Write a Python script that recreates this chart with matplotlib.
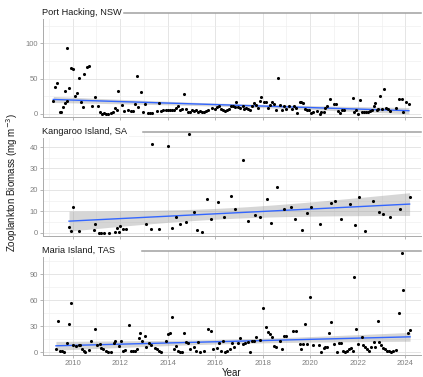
import numpy as np
import matplotlib.pyplot as plt

plt.rcParams['font.family'] = ['Liberation Sans', 'DejaVu Sans']

# Sites (one panel each)
sites = ['Port Hacking, NSW', 'Kangaroo Island, SA', 'Maria Island, TAS']

# Port Hacking, NSW
ph_year = [2009.19, 2009.27, 2009.36, 2009.47, 2009.52, 2009.61, 2009.69, 2009.70, 2009.75, 2009.78,
           2009.83, 2009.92, 2010.03, 2010.11, 2010.17, 2010.25, 2010.34, 2010.42, 2010.48, 2010.59,
           2010.67, 2010.81, 2010.93, 2011.09, 2011.15, 2011.23, 2011.32, 2011.40, 2011.49, 2011.60,
           2011.68, 2011.77, 2011.85, 2011.91, 2012.08, 2012.16, 2012.33, 2012.44, 2012.53, 2012.61,
           2012.69, 2012.75, 2012.86, 2012.95, 2013.06, 2013.17, 2013.25, 2013.34, 2013.54, 2013.62,
           2013.71, 2013.79, 2013.93, 2014.02, 2014.11, 2014.20, 2014.28, 2014.37, 2014.45, 2014.54,
           2014.62, 2014.67, 2014.79, 2014.87, 2014.96, 2015.04, 2015.12, 2015.21, 2015.29, 2015.37,
           2015.46, 2015.55, 2015.63, 2015.71, 2015.85, 2015.99, 2016.08, 2016.16, 2016.24, 2016.33,
           2016.41, 2016.50, 2016.58, 2016.67, 2016.75, 2016.83, 2016.89, 2016.98, 2017.06, 2017.15,
           2017.23, 2017.31, 2017.40, 2017.48, 2017.57, 2017.65, 2017.73, 2017.79, 2017.87, 2017.93,
           2018.04, 2018.13, 2018.21, 2018.29, 2018.38, 2018.46, 2018.55, 2018.63, 2018.72, 2018.80,
           2018.88, 2019.00, 2019.11, 2019.22, 2019.31, 2019.38, 2019.46, 2019.55, 2019.63, 2019.71,
           2019.80, 2019.88, 2019.94, 2020.02, 2020.13, 2020.30, 2020.39, 2020.47, 2020.56, 2020.64,
           2020.72, 2020.83, 2021.00, 2021.09, 2021.17, 2021.25, 2021.34, 2021.42, 2021.79, 2021.84,
           2021.93, 2022.01, 2022.10, 2022.18, 2022.26, 2022.35, 2022.43, 2022.52, 2022.60, 2022.69,
           2022.74, 2022.80, 2022.86, 2022.94, 2023.02, 2023.11, 2023.19, 2023.28, 2023.36, 2023.61,
           2023.75, 2023.84, 2023.92, 2024.03, 2024.15]
ph_biomass = [17.6, 38.6, 43.8, 2.9, 1.9, 9.0, 31.9, 15.2, 93.3, 18.6,
              37.1, 65.7, 63.8, 25.7, 29.5, 51.4, 17.1, 9.5, 56.2, 66.2,
              67.6, 10.5, 23.3, 10.5, 1.9, 0.2, 1.0, 0.3, 0.2, 1.0,
              2.9, 7.6, 4.8, 31.9, 12.4, 3.8, 4.8, 3.8, 3.8, 13.3,
              54.3, 9.5, 31.0, 1.9, 13.3, 1.0, 1.0, 1.0, 3.8, 15.2,
              3.8, 4.8, 4.8, 5.0, 5.7, 4.8, 5.7, 7.6, 11.4, 5.7,
              6.7, 28.6, 6.7, 2.9, 1.9, 4.8, 3.8, 4.8, 2.9, 3.8,
              1.9, 2.9, 3.8, 4.8, 8.6, 6.7, 9.5, 11.4, 6.7, 4.8,
              3.8, 4.8, 6.7, 10.5, 11.4, 9.5, 17.1, 9.5, 7.6, 11.4,
              6.7, 8.6, 6.7, 5.7, 11.4, 15.2, 12.4, 7.6, 18.1, 23.8,
              16.2, 17.1, 8.6, 12.4, 17.1, 14.3, 5.7, 50.5, 12.4, 4.8,
              11.4, 6.7, 10.5, 6.7, 11.4, 7.6, 1.0, 17.1, 16.2, 15.2,
              6.7, 5.7, 4.8, 1.0, 2.9, 3.8, 0.3, 1.9, 2.9, 7.6,
              10.5, 21.0, 13.3, 14.3, 3.8, 1.0, 5.7, 5.7, 21.9, 2.9,
              4.8, 0.3, 19.0, 1.9, 1.9, 2.9, 1.9, 3.8, 5.7, 11.4,
              15.2, 5.7, 6.7, 25.7, 6.7, 35.3, 7.6, 6.7, 3.8, 8.6,
              21.0, 21.0, 1.9, 17.1, 13.3]

# Kangaroo Island, SA
ki_year = [2009.85, 2009.93, 2010.01, 2010.27, 2010.88, 2010.94, 2011.11, 2011.19, 2011.31, 2011.53,
           2011.78, 2011.87, 2011.95, 2012.01, 2012.12, 2012.26, 2013.10, 2013.30, 2013.33, 2013.63,
           2014.03, 2014.17, 2014.34, 2014.50, 2014.79, 2014.88, 2015.12, 2015.23, 2015.46, 2015.65,
           2015.82, 2016.12, 2016.37, 2016.68, 2016.85, 2017.19, 2017.36, 2017.66, 2017.89, 2018.17,
           2018.34, 2018.62, 2018.90, 2019.18, 2019.35, 2019.66, 2019.88, 2020.05, 2020.39, 2020.86,
           2021.06, 2021.31, 2021.68, 2021.87, 2022.04, 2022.32, 2022.63, 2022.91, 2023.05, 2023.36,
           2023.78, 2024.18]
ki_biomass = [2.9, 0.6, 12.2, 0.8, 1.1, 4.0, 0.1, 0.1, 0.0, 0.0,
              0.5, 2.0, 0.5, 3.2, 1.7, 1.7, 3.9, 1.7, 41.5, 1.7,
              40.6, 2.3, 7.3, 3.9, 5.1, 46.1, 9.7, 1.1, 0.5, 15.9,
              6.6, 14.4, 7.5, 17.1, 11.3, 34.1, 5.7, 8.2, 7.3, 15.6,
              4.5, 21.2, 11.0, 12.2, 6.6, 1.4, 9.4, 12.2, 4.2, 13.7,
              15.0, 6.6, 13.4, 3.6, 16.5, 0.8, 14.7, 9.7, 8.8, 7.5,
              11.3, 16.8]

# Maria Island, TAS
mi_year = [2009.30, 2009.38, 2009.49, 2009.55, 2009.63, 2009.75, 2009.83, 2009.92, 2010.03, 2010.14,
           2010.25, 2010.31, 2010.39, 2010.48, 2010.53, 2010.70, 2010.79, 2010.93, 2011.04, 2011.15,
           2011.21, 2011.29, 2011.40, 2011.49, 2011.60, 2011.74, 2011.80, 2011.94, 2012.02, 2012.13,
           2012.22, 2012.36, 2012.44, 2012.56, 2012.64, 2012.72, 2012.78, 2012.83, 2012.92, 2013.03,
           2013.09, 2013.20, 2013.31, 2013.45, 2013.54, 2013.65, 2013.73, 2013.93, 2014.03, 2014.11,
           2014.20, 2014.25, 2014.34, 2014.42, 2014.51, 2014.59, 2014.67, 2014.79, 2014.87, 2014.93,
           2015.12, 2015.18, 2015.26, 2015.38, 2015.55, 2015.71, 2015.82, 2015.91, 2016.08, 2016.16,
           2016.24, 2016.33, 2016.41, 2016.50, 2016.61, 2016.72, 2016.81, 2016.98, 2017.06, 2017.15,
           2017.25, 2017.37, 2017.45, 2017.54, 2017.65, 2017.73, 2017.90, 2018.01, 2018.13, 2018.21,
           2018.29, 2018.41, 2018.46, 2018.55, 2018.72, 2018.80, 2018.88, 2018.97, 2019.29, 2019.38,
           2019.55, 2019.63, 2019.71, 2019.77, 2019.88, 2019.99, 2020.13, 2020.36, 2020.47, 2020.56,
           2020.64, 2020.72, 2020.78, 2020.86, 2020.98, 2021.12, 2021.20, 2021.28, 2021.37, 2021.45,
           2021.54, 2021.62, 2021.71, 2021.79, 2021.84, 2021.93, 2022.01, 2022.16, 2022.21, 2022.29,
           2022.38, 2022.46, 2022.57, 2022.69, 2022.74, 2022.83, 2022.88, 2022.97, 2023.05, 2023.14,
           2023.22, 2023.31, 2023.39, 2023.50, 2023.61, 2023.75, 2023.84, 2023.89, 2024.12, 2024.20]
mi_biomass = [3.5, 36.1, 2.0, 1.2, 0.3, 10.4, 32.3, 56.9, 8.1, 7.3,
              8.1, 8.9, 4.3, 1.2, 0.3, 2.7, 12.7, 26.5, 8.9, 9.6,
              5.0, 3.5, 1.2, 0.3, 0.3, 11.2, 13.5, 7.3, 12.7, 1.2,
              2.7, 31.1, 1.2, 2.0, 2.0, 3.5, 16.5, 22.7, 12.7, 18.8,
              5.8, 10.4, 8.9, 5.0, 3.5, 2.0, 0.3, 12.7, 21.1, 22.7,
              41.2, 4.3, 7.3, 1.2, 0.3, 0.3, 21.9, 11.9, 11.2, 4.3,
              5.8, 1.2, 11.9, 0.3, 2.0, 27.3, 24.2, 3.5, 5.0, 10.4,
              1.2, 13.5, 0.3, 1.2, 3.5, 10.4, 6.5, 11.2, 16.5, 9.6,
              10.4, 11.9, 0.3, 12.7, 13.5, 18.1, 14.2, 51.1, 28.8, 23.4,
              21.1, 17.3, 7.3, 5.8, 12.7, 3.5, 18.8, 18.8, 24.2, 24.2,
              9.6, 4.3, 9.6, 32.7, 9.6, 64.2, 8.9, 8.9, 0.3, 5.0,
              6.5, 5.8, 21.9, 35.0, 9.6, 0.3, 10.4, 11.2, 1.2, 0.3,
              2.0, 3.5, 5.0, 2.0, 86.9, 26.5, 9.6, 17.3, 8.9, 6.5,
              4.3, 1.2, 5.8, 11.9, 6.5, 36.6, 11.9, 8.9, 5.0, 3.5,
              1.2, 2.0, 0.3, 2.0, 2.7, 45.8, 115.0, 71.5, 21.9, 25.7]

years = [ph_year, ki_year, mi_year]
biomass = [ph_biomass, ki_biomass, mi_biomass]

y_ticks = [[0, 50, 100], [0, 10, 20, 30, 40], [0, 30, 60, 90]]
y_minor = [[25, 75, 125], [5, 15, 25, 35, 45], [15, 45, 75, 105]]
y_lims = [(-4.5, 143), (-1.5, 47), (-3, 117)]
x_ticks = list(range(2010, 2025, 2))
x_minor = list(range(2009, 2025, 2))

fig = plt.figure(figsize=(4.23, 3.77), dpi=100)

W, H = 423, 377
left, right = 43, 421
tops = [13, 132, 251]
ph = 104
strip_start = [124, 143, 142]

for i in range(3):
    ax = fig.add_axes([left / W, 1 - (tops[i] + ph) / H, (right - left) / W, ph / H])
    x = np.array(years[i])
    y = np.array(biomass[i])

    # linear fit with 95% band
    n = len(x)
    b, a = np.polyfit(x, y, 1)
    xs = np.linspace(x.min(), x.max(), 100)
    fit = a + b * xs
    resid = y - (a + b * x)
    s = np.sqrt(np.sum(resid ** 2) / (n - 2))
    se = s * np.sqrt(1 / n + (xs - x.mean()) ** 2 / np.sum((x - x.mean()) ** 2))
    tval = 1.97 if n > 100 else 2.0
    ax.fill_between(xs, fit - tval * se, fit + tval * se, color='#999999', alpha=0.4, lw=0, zorder=2)
    ax.plot(xs, fit, color='#3366FF', lw=1.0, zorder=3)
    ax.scatter(x, y, s=5, color='black', lw=0, zorder=4)

    ax.set_xlim(2008.755, 2024.66)
    ax.set_ylim(*y_lims[i])
    ax.set_xticks(x_ticks)
    ax.set_xticks(x_minor, minor=True)
    ax.set_yticks(y_ticks[i])
    ax.set_yticks(y_minor[i], minor=True)
    ax.grid(True, which='major', color='#e0e0e0', lw=0.6)
    ax.grid(True, which='minor', color='#ededed', lw=0.4)
    ax.set_axisbelow(True)

    for side in ['top', 'right']:
        ax.spines[side].set_visible(False)
    for side in ['left', 'bottom']:
        ax.spines[side].set_color('#aaaaaa')
        ax.spines[side].set_linewidth(0.7)
    ax.tick_params(which='major', length=2, width=0.6, color='#aaaaaa',
                   labelsize=5.5, labelcolor='#808080', pad=1.5)
    ax.tick_params(which='minor', length=0)
    if i < 2:
        ax.tick_params(axis='x', labelbottom=False)

    # strip line and title
    ax.plot([(strip_start[i] - left) / (right - left), 1], [1, 1], transform=ax.transAxes,
            color='#a0a0a0', lw=1.1, clip_on=False, zorder=5)
    ax.text(-0.002, 1 - 2.3 / ph, sites[i], transform=ax.transAxes, ha='left', va='baseline',
            fontsize=6.7, color='#1a1a1a', zorder=6, clip_on=False,
            bbox=dict(boxstyle='square,pad=0.15', fc='white', ec='none'))

fig.text((left + right) / 2 / W, 1 - 372.5 / H, 'Year', ha='center', va='center',
         fontsize=7, color='#1a1a1a')
fig.text(12 / W, 1 - 182 / H, 'Zooplankton Biomass (mg m$^{-3}$)', rotation=90,
         ha='center', va='center', fontsize=7, color='#1a1a1a')

fig.savefig('out.png', dpi=100)
